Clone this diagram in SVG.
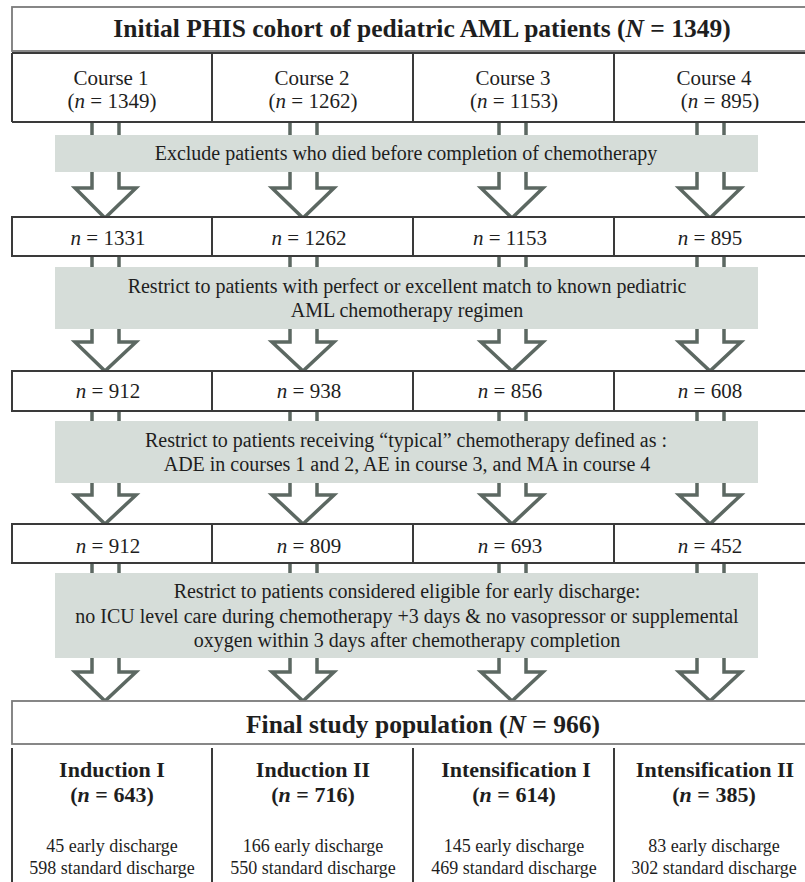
<svg xmlns="http://www.w3.org/2000/svg" width="805" height="882" viewBox="0 0 805 882">
<style>
text{font-family:"Liberation Serif","Times New Roman",serif;fill:#1e1e1e;text-anchor:middle}
.t{font-size:25.5px;font-weight:bold}
.c{font-size:21px}
.b{font-size:20px}
.h{font-size:22px;font-weight:bold}
.d{font-size:18px}
.box{fill:#fff;stroke:#3a3a3a;stroke-width:2}
.lbox{fill:#fff;stroke:#7a7a7a;stroke-width:1.8}
.div{stroke:#3a3a3a;stroke-width:2}
.band{fill:#d6ddd9}
.arr{fill:none;stroke:#5c6862;stroke-width:3.5;stroke-linejoin:miter}
</style>
<g id="connectors">
<path class="arr" d="M92 122V188H75L105 218L136 188H119V122"/>
<path class="arr" d="M290 122V188H272L303 218L334 188H317V122"/>
<path class="arr" d="M499 122V188H481L512 218L543 188H526V122"/>
<path class="arr" d="M697 122V188H679L710 218L741 188H724V122"/>
<path class="arr" d="M92 256V342H75L105 371L136 342H119V256"/>
<path class="arr" d="M290 256V342H272L303 371L334 342H317V256"/>
<path class="arr" d="M499 256V342H481L512 371L543 342H526V256"/>
<path class="arr" d="M697 256V342H679L710 371L741 342H724V256"/>
<path class="arr" d="M92 411V495H75L105 524L136 495H119V411"/>
<path class="arr" d="M290 411V495H272L303 524L334 495H317V411"/>
<path class="arr" d="M499 411V495H481L512 524L543 495H526V411"/>
<path class="arr" d="M697 411V495H679L710 524L741 495H724V411"/>
<path class="arr" d="M92 563V672H75L105 701L136 672H119V563"/>
<path class="arr" d="M290 563V672H272L303 701L334 672H317V563"/>
<path class="arr" d="M499 563V672H481L512 701L543 672H526V563"/>
<path class="arr" d="M697 563V672H679L710 701L741 672H724V563"/>
</g>
<g id="title">
<rect class="lbox" x="12" y="7" width="820" height="44"/>
<text class="t" x="422" y="37">Initial PHIS cohort of pediatric AML patients (<tspan font-style="italic">N</tspan> = 1349)</text>
</g>
<g id="courses">
<path class="div" d="M12 53H820M12 122H820M12 53V122M212 53V122M413 53V122M614 53V122"/>
</g>
<g id="course1"><text class="c" x="111" y="85">Course 1</text><text class="c" x="112" y="108">(<tspan font-style="italic">n</tspan> = 1349)</text></g>
<g id="course2"><text class="c" x="312" y="85">Course 2</text><text class="c" x="313" y="108">(<tspan font-style="italic">n</tspan> = 1262)</text></g>
<g id="course3"><text class="c" x="513" y="85">Course 3</text><text class="c" x="514" y="108">(<tspan font-style="italic">n</tspan> = 1153)</text></g>
<g id="course4"><text class="c" x="714" y="85">Course 4</text><text class="c" x="720" y="108">(<tspan font-style="italic">n</tspan> = 895)</text></g>
<g id="band1"><rect class="band" x="55" y="135" width="703" height="37"/>
<text class="b" x="406" y="160">Exclude patients who died before completion of chemotherapy</text></g>
<g id="row2">
<rect class="box" x="12" y="217" width="820" height="39"/>
<path class="div" d="M212 217V256M413 217V256M614 217V256"/>
<text class="c" x="108" y="245"><tspan font-style="italic">n</tspan> = 1331</text>
<text class="c" x="309" y="245"><tspan font-style="italic">n</tspan> = 1262</text>
<text class="c" x="510" y="245"><tspan font-style="italic">n</tspan> = 1153</text>
<text class="c" x="710" y="245"><tspan font-style="italic">n</tspan> = 895</text>
</g>
<g id="band2"><rect class="band" x="55" y="267" width="703" height="62"/>
<text class="b" x="407" y="293">Restrict to patients with perfect or excellent match to known pediatric</text>
<text class="b" x="407" y="317">AML chemotherapy regimen</text></g>
<g id="row3">
<rect class="box" x="12" y="371" width="820" height="40"/>
<path class="div" d="M212 371V411M413 371V411M614 371V411"/>
<text class="c" x="108" y="398"><tspan font-style="italic">n</tspan> = 912</text>
<text class="c" x="309" y="398"><tspan font-style="italic">n</tspan> = 938</text>
<text class="c" x="510" y="398"><tspan font-style="italic">n</tspan> = 856</text>
<text class="c" x="710" y="398"><tspan font-style="italic">n</tspan> = 608</text>
</g>
<g id="band3"><rect class="band" x="55" y="421" width="703" height="62"/>
<text class="b" x="406" y="447">Restrict to patients receiving “typical” chemotherapy defined as :</text>
<text class="b" x="407" y="471">ADE in courses 1 and 2, AE in course 3, and MA in course 4</text></g>
<g id="row4">
<rect class="box" x="12" y="524" width="820" height="39"/>
<path class="div" d="M212 524V563M413 524V563M614 524V563"/>
<text class="c" x="108" y="553"><tspan font-style="italic">n</tspan> = 912</text>
<text class="c" x="309" y="553"><tspan font-style="italic">n</tspan> = 809</text>
<text class="c" x="510" y="553"><tspan font-style="italic">n</tspan> = 693</text>
<text class="c" x="710" y="553"><tspan font-style="italic">n</tspan> = 452</text>
</g>
<g id="band4"><rect class="band" x="55" y="573" width="703" height="85"/>
<text class="b" x="407" y="598">Restrict to patients considered eligible for early discharge:</text>
<text class="b" x="407" y="623">no ICU level care during chemotherapy +3 days &amp; no vasopressor or supplemental</text>
<text class="b" x="407" y="647">oxygen within 3 days after chemotherapy completion</text></g>
<g id="final">
<rect class="lbox" x="12" y="701" width="820" height="43"/>
<text class="t" x="423" y="733">Final study population (<tspan font-style="italic">N</tspan> = 966)</text>
</g>
<g id="groups">
<path class="div" d="M12 748V882M212 748V882M413 748V882M614 748V882"/>
</g>
<g id="induction1"><text class="h" x="112" y="777">Induction I</text><text class="h" x="112" y="802">(<tspan font-style="italic">n</tspan> = 643)</text>
<text class="d" x="112" y="852">45 early discharge</text><text class="d" x="112" y="874">598 standard discharge</text></g>
<g id="induction2"><text class="h" x="313" y="777">Induction II</text><text class="h" x="313" y="802">(<tspan font-style="italic">n</tspan> = 716)</text>
<text class="d" x="313" y="852">166 early discharge</text><text class="d" x="313" y="874">550 standard discharge</text></g>
<g id="intensification1"><text class="h" x="516" y="777">Intensification I</text><text class="h" x="514" y="802">(<tspan font-style="italic">n</tspan> = 614)</text>
<text class="d" x="514" y="852">145 early discharge</text><text class="d" x="514" y="874">469 standard discharge</text></g>
<g id="intensification2"><text class="h" x="715" y="777">Intensification II</text><text class="h" x="714" y="802">(<tspan font-style="italic">n</tspan> = 385)</text>
<text class="d" x="714" y="852">83 early discharge</text><text class="d" x="714" y="874">302 standard discharge</text></g>
</svg>
